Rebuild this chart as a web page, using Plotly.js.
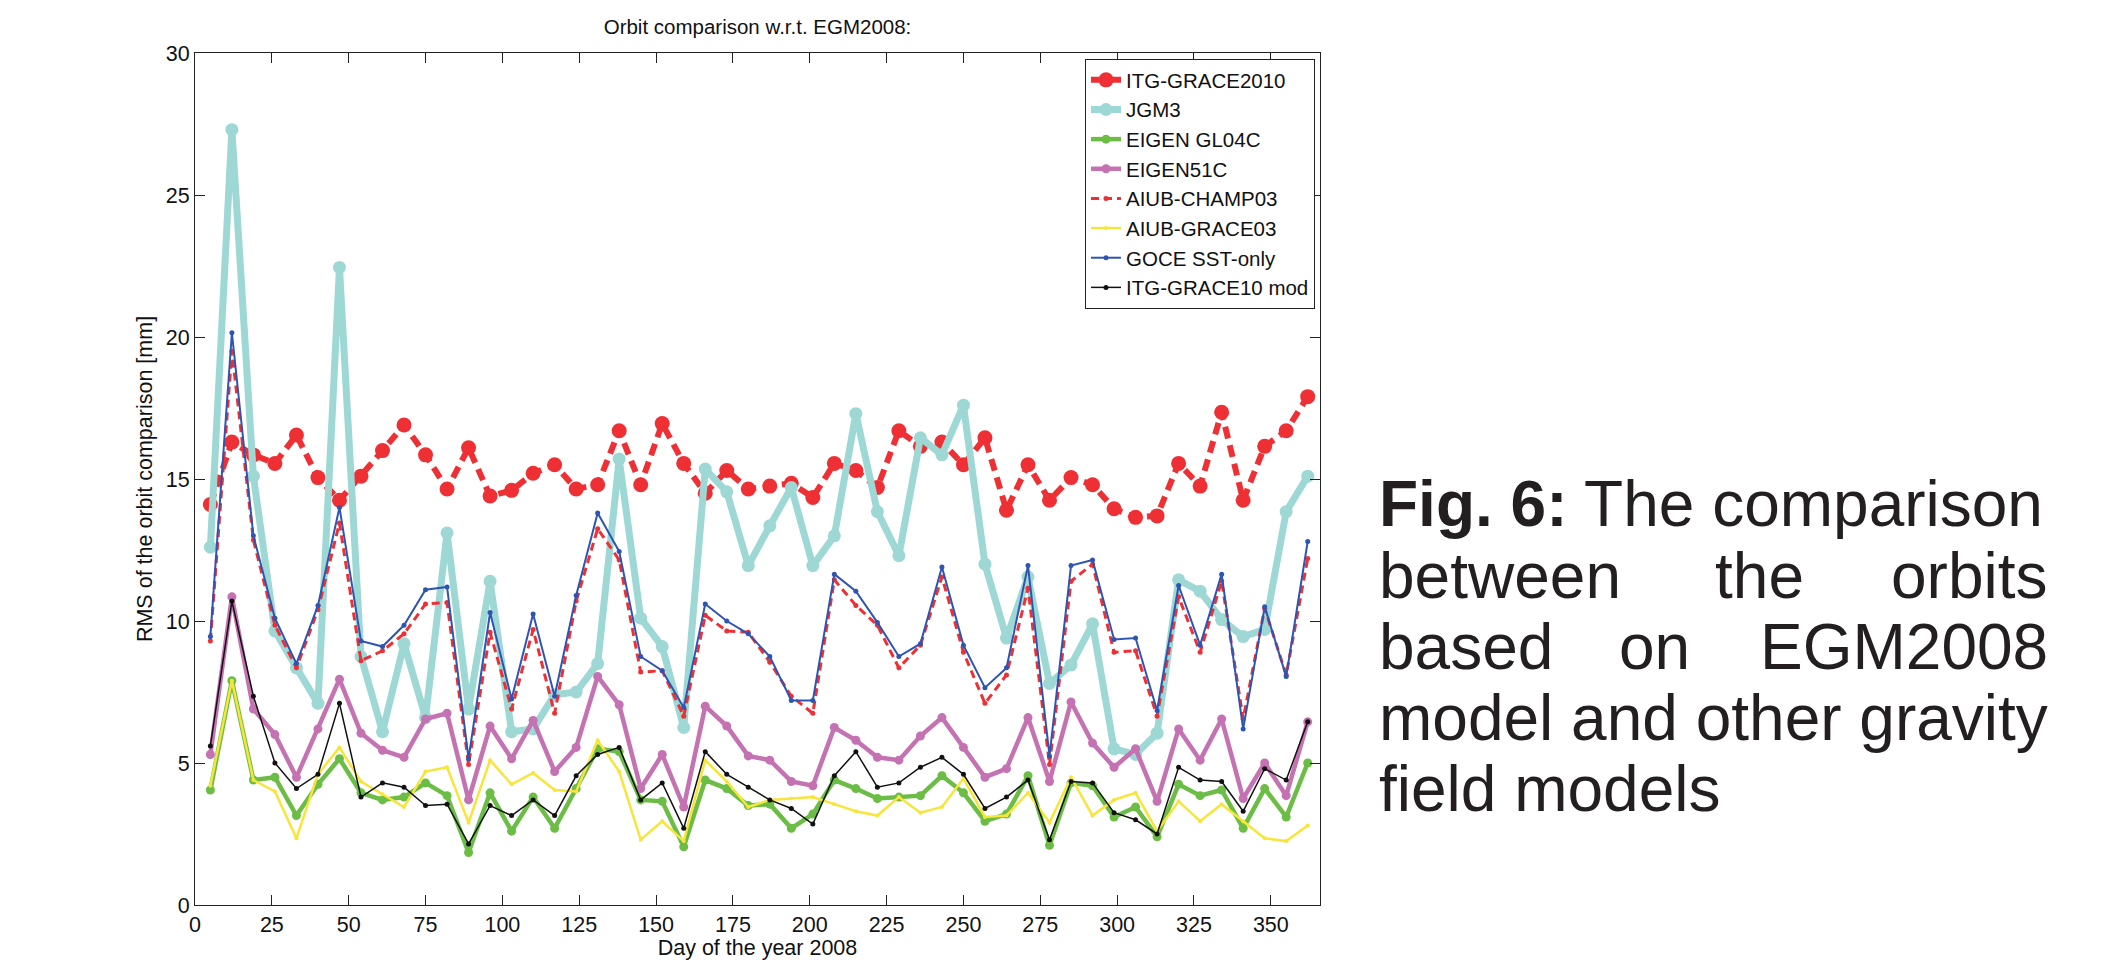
<!DOCTYPE html>
<html>
<head>
<meta charset="utf-8">
<script src="https://cdn.plot.ly/plotly-3.0.1.min.js"></script>
<style>
  html, body { margin: 0; padding: 0; background: #ffffff; }
  #chart { width: 2115px; height: 960px; }
</style>
</head>
<body>
<div id="chart"></div>
<script>
// ---- data ----
const days = [5,12,19,26,33,40,47,54,61,68,75,82,89,96,103,110,117,124,131,138,145,152,159,166,173,180,187,194,201,208,215,222,229,236,243,250,257,264,271,278,285,292,299,306,313,320,327,334,341,348,355,362];

const itgGrace2010 = [14.1,16.3,15.85,15.55,16.55,15.05,14.25,15.1,16.0,16.9,15.85,14.65,16.1,14.4,14.6,15.2,15.5,14.65,14.8,16.7,14.8,16.95,15.55,14.5,15.3,14.65,14.75,14.85,14.35,15.55,15.3,14.7,16.7,16.15,16.3,15.5,16.45,13.9,15.5,14.25,15.05,14.8,13.95,13.65,13.7,15.55,14.75,17.35,14.25,16.15,16.7,17.9];
const jgm3 = [12.6,27.3,15.1,9.65,8.35,7.1,22.45,8.75,6.1,9.2,6.6,13.1,6.9,11.4,6.1,6.2,7.4,7.5,8.5,15.7,10.1,9.1,6.25,15.35,14.55,11.95,13.35,14.7,11.95,13.0,17.3,13.85,12.3,16.45,15.85,17.6,12.0,9.4,11.55,7.8,8.45,9.9,5.5,5.3,6.05,11.45,11.05,10.05,9.45,9.7,13.85,15.1];
const eigenGL04C = [4.05,7.9,4.4,4.5,3.15,4.25,5.15,3.95,3.7,3.8,4.3,3.85,1.85,3.95,2.6,3.8,2.7,4.1,5.5,5.4,3.7,3.65,2.05,4.4,4.1,3.5,3.55,2.7,3.2,4.4,4.1,3.75,3.8,3.85,4.55,3.95,2.95,3.2,4.55,2.1,4.3,4.2,3.1,3.45,2.4,4.25,3.85,4.05,2.7,4.1,3.1,5.0];
const eigen51C = [5.3,10.85,6.9,6.0,4.5,6.2,7.95,6.05,5.45,5.2,6.55,6.75,3.7,6.3,5.15,6.5,4.7,5.55,8.05,7.05,4.1,5.3,3.45,7.0,6.3,5.25,5.1,4.35,4.2,6.25,5.8,5.2,5.1,5.95,6.6,5.55,4.5,4.8,6.6,4.35,7.15,5.7,4.85,5.5,3.65,6.2,5.1,6.55,3.75,5.0,3.85,6.45];
const aiubChamp03 = [9.3,19.5,12.85,9.85,8.35,10.4,13.45,8.6,8.95,9.55,10.6,10.65,4.95,9.6,6.9,9.7,6.75,10.7,13.25,12.15,8.2,8.25,6.65,10.2,9.65,9.6,8.55,7.35,6.75,11.45,10.55,9.85,8.35,9.15,11.55,8.9,7.1,8.1,11.15,4.95,11.4,12.0,8.9,8.95,6.65,10.85,8.9,11.4,6.55,10.45,8.1,12.2];
const aiubGrace03 = [4.2,7.9,4.4,4.0,2.35,4.6,5.55,4.35,3.9,3.45,4.7,4.85,2.9,5.1,4.25,4.65,4.05,4.0,5.8,4.7,2.3,2.95,2.25,5.1,4.35,3.45,3.7,3.75,3.8,3.55,3.3,3.15,3.8,3.25,3.45,4.45,3.1,3.15,3.95,2.9,4.5,3.15,3.7,3.95,2.6,3.65,2.95,3.55,2.95,2.35,2.25,2.8];
const goceSST = [9.45,20.15,13.0,10.1,8.5,10.55,14.0,9.3,9.1,9.85,11.1,11.2,5.15,10.3,7.25,10.25,7.35,10.9,13.8,12.45,8.75,8.25,6.95,10.6,10.0,9.55,8.75,7.2,7.2,11.65,11.05,9.95,8.75,9.2,11.9,9.15,7.65,8.35,11.95,5.25,11.95,12.15,9.35,9.4,6.85,11.25,9.15,11.65,6.2,10.5,8.05,12.8];
const itgGrace10mod = [5.6,10.7,7.35,5.0,4.1,4.6,7.1,3.8,4.3,4.15,3.5,3.55,2.15,3.5,3.15,3.7,3.15,4.55,5.3,5.55,3.7,4.3,2.7,5.4,4.6,4.15,3.7,3.4,2.85,4.55,5.4,4.15,4.3,4.85,5.2,4.6,3.4,3.8,4.4,2.3,4.35,4.3,3.25,3.0,2.5,4.85,4.4,4.35,3.3,4.8,4.4,6.45];

const seriesNames = ['ITG-GRACE2010','JGM3','EIGEN GL04C','EIGEN51C','AIUB-CHAMP03','AIUB-GRACE03','GOCE SST-only','ITG-GRACE10 mod'];
const xTicks = [0,25,50,75,100,125,150,175,200,225,250,275,300,325,350];
const yTicks = [0,5,10,15,20,25,30];
const chartTitle = 'Orbit comparison w.r.t. EGM2008:';
const xTitle = 'Day of the year 2008';
const yTitle = 'RMS of the orbit comparison [mm]';

// ---- styles ----
const FONT = 'Liberation Sans, Arial, Helvetica, sans-serif';
const styles = [
  {color:'#ee3035', width:6,   dash:'12px,7px', msize:15},
  {color:'#9dd8d5', width:7,   dash:'solid',    msize:13},
  {color:'#6cbd45', width:4.5, dash:'solid',    msize:9},
  {color:'#c472b2', width:4.5, dash:'solid',    msize:9},
  {color:'#ee3035', width:3,   dash:'8px,5px',  msize:5},
  {color:'#f7e53c', width:2.5, dash:'solid',    msize:4},
  {color:'#2f55b2', width:2,   dash:'solid',    msize:5},
  {color:'#111111', width:1.5, dash:'solid',    msize:5}
];
const values = [itgGrace2010, jgm3, eigenGL04C, eigen51C, aiubChamp03, aiubGrace03, goceSST, itgGrace10mod];

const traces = values.map((v, i) => ({
  type: 'scatter',
  mode: 'lines+markers',
  name: seriesNames[i],
  x: days,
  y: v,
  line: {color: styles[i].color, width: styles[i].width, dash: styles[i].dash},
  marker: {color: styles[i].color, size: styles[i].msize, symbol: 'circle'}
}));

// ---- geometry ----
const W = 2115, H = 960;
const L = 195, R = 1320, T = 53, B = 905;
const px = x => (x - L) / (R - L);
const py = y => (B - y) / (B - T);

const capFont = {family: FONT, size: 64, color: '#231f20'};
function cap(text, x, y, anchor) {
  return {text: text, xref: 'paper', yref: 'paper', x: px(x), y: py(y),
          xanchor: anchor, yanchor: 'middle', showarrow: false, font: capFont, borderpad: 0};
}
const annotations = [
  cap('<b>Fig. 6:</b> The comparison', 1378, 504, 'left'),
  cap('between', 1378, 576, 'left'),
  cap('the', 1759, 576, 'center'),
  cap('orbits', 2049, 576, 'right'),
  cap('based', 1378, 647, 'left'),
  cap('on', 1654, 647, 'center'),
  cap('EGM2008', 2049, 647, 'right'),
  cap('model and other gravity', 1378, 718, 'left'),
  cap('field models', 1378, 789, 'left')
];

const axisCommon = {
  ticks: 'inside', ticklen: 10, tickwidth: 1, tickcolor: '#222',
  showline: true, linecolor: '#222', linewidth: 1, mirror: 'ticks',
  showgrid: false, zeroline: false, automargin: false,
  tickfont: {family: FONT, size: 21.5, color: '#111'}
};

const layout = {
  width: W, height: H,
  paper_bgcolor: '#ffffff', plot_bgcolor: '#ffffff',
  margin: {l: L, r: W - R, t: T, b: H - B, pad: 0},
  font: {family: FONT, color: '#111'},
  title: {text: chartTitle, font: {family: FONT, size: 20.5, color: '#111'},
          xref: 'paper', x: 0.5, xanchor: 'center', yref: 'container', y: 1 - 27 / H, yanchor: 'middle'},
  xaxis: Object.assign({}, axisCommon, {
    range: [0, 366], tickmode: 'array', tickvals: xTicks, ticktext: xTicks.map(String),
    title: {text: xTitle, font: {family: FONT, size: 21.5, color: '#111'}, standoff: 2}
  }),
  yaxis: Object.assign({}, axisCommon, {
    range: [0, 30], tickmode: 'array', tickvals: yTicks, ticktext: yTicks.map(String),
    title: {text: yTitle, font: {family: FONT, size: 21.5, color: '#111'}, standoff: 7}
  }),
  showlegend: true,
  legend: {
    x: px(1315), xanchor: 'right', y: py(59), yanchor: 'top',
    bgcolor: '#ffffff', bordercolor: '#222', borderwidth: 1,
    font: {family: FONT, size: 20.5, color: '#111'},
    itemwidth: 30, tracegroupgap: 0, traceorder: 'normal'
  },
  annotations: annotations
};

Plotly.newPlot('chart', traces, layout, {displayModeBar: false, staticPlot: true});
</script>
</body>
</html>
